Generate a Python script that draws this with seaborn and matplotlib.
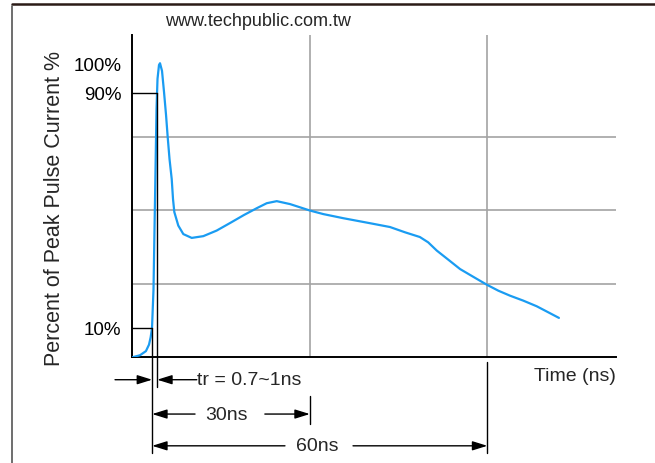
import numpy as np
import pandas as pd
import matplotlib
matplotlib.use("Agg")
import matplotlib.pyplot as plt
from matplotlib.lines import Line2D
import seaborn as sns

# ---- data (time in ns, current in % of peak) ----
time_ns = [0.0, 1.3, 2.3, 2.82, 3.1, 3.33, 3.58, 3.84, 4.09, 4.26, 4.51, 4.68,
           5.02, 5.36, 5.70, 5.98, 6.29, 6.66, 6.88, 7.10, 7.77, 8.62, 10.04,
           12.0, 14.26, 16.55, 18.88, 21.03, 22.72, 24.41, 26.66, 28.35, 30.03,
           32.28, 35.66, 40.17, 43.55, 46.1, 48.6, 50.0, 51.45, 53.4, 55.4,
           57.6, 59.9, 61.86, 63.84, 66.1, 68.35, 70.3, 72.1]
current_pct = [0.0, 0.7, 2.1, 4.3, 6.8, 10.0, 23.0, 54.0, 84.4, 94.7, 99.4, 100.0,
               97.4, 90.2, 82.4, 74.9, 67.4, 60.6, 53.8, 49.4, 44.8, 41.9, 40.6,
               41.2, 43.1, 45.7, 48.4, 50.7, 52.4, 53.1, 52.1, 51.0, 49.9,
               48.7, 47.3, 45.6, 44.3, 42.5, 40.9, 39.1, 36.3, 33.2, 30.0,
               27.4, 24.7, 22.65, 20.95, 19.25, 17.35, 15.3, 13.4]

y_tick_values = [10, 90, 100]
y_tick_labels = ["10%", "90%", "100%"]
h_grid = [25, 50, 75, 100]
v_grid = [30, 60]

t_10 = 3.35   # time where the pulse passes 10%
t_90 = 4.2    # time where the pulse passes 90%

df = pd.DataFrame({"t": time_ns, "i": current_pct})

sns.set_theme(style="white")
plt.rcParams["font.family"] = ["Liberation Sans", "DejaVu Sans"]

fig = plt.figure(figsize=(6.55, 4.64), dpi=100)
ax = fig.add_axes([0.202, 0.2278, 0.7385, 0.6946])

sns.lineplot(data=df, x="t", y="i", ax=ax, color="#1a9cf2", linewidth=1.6,
             zorder=3, sort=False, solid_joinstyle="round")

ax.set_xlim(0, 81.75)
ax.set_ylim(0, 109.6)

# grid: horizontal every 25%, vertical at 30 / 60 ns
ax.set_yticks(y_tick_values, labels=y_tick_labels)
ax.set_yticks(h_grid, minor=True)
ax.set_xticks(v_grid, labels=[])
ax.grid(False)
ax.grid(which="minor", axis="y", color="#a3a3a3", linewidth=1.2)
ax.grid(which="major", axis="x", color="#a3a3a3", linewidth=1.2)
ax.tick_params(axis="y", which="both", length=0, pad=8, labelsize=13.5,
               labelcolor="black")
ax.tick_params(axis="x", length=0)
ax.set_xlabel("")
ax.set_ylabel("")

for side in ["top", "right"]:
    ax.spines[side].set_visible(False)
for side in ["left", "bottom"]:
    ax.spines[side].set_color("black")
    ax.spines[side].set_linewidth(1.4)

# 10% / 90% markers
ax.plot([0, t_10], [10, 10], color="black", lw=1.0, zorder=4)
ax.plot([0, t_90], [90, 90], color="black", lw=1.0, zorder=4)

# dimension lines below the axis
vlines = [(t_10, 10, -32.6), (t_90, 90, -10.1), (v_grid[0], -13.1, -22.7),
          (v_grid[1], -1.5, -32.6)]
for x, y0, y1 in vlines:
    ax.plot([x, x], [y0, y1], color="black", lw=1.0, clip_on=False, zorder=4)

arrow = dict(arrowstyle="-|>,head_length=0.9,head_width=0.28", color="black",
             lw=1.0, shrinkA=0, shrinkB=0, mutation_scale=10)

def dim_arrow(x_from, x_to, y):
    ax.annotate("", xy=(x_to, y), xytext=(x_from, y), arrowprops=arrow,
                annotation_clip=False)

# rise time
dim_arrow(-2.92, t_10, -7.62)
dim_arrow(10.9, t_90, -7.62)
ax.text(10.9, -7.62, "tr = 0.7~1ns", fontsize=14, ha="left", va="center",
        clip_on=False)
# 30ns
dim_arrow(10.6, t_10, -19.3)
dim_arrow(22.4, v_grid[0], -19.3)
ax.text(15.9, -19.3, "30ns", fontsize=14, ha="center", va="center", clip_on=False)
# 60ns
dim_arrow(25.8, t_10, -30.1)
dim_arrow(37.3, v_grid[1], -30.1)
ax.text(31.3, -30.1, "60ns", fontsize=14, ha="center", va="center", clip_on=False)

# labels
fig.text(616 / 655, 1 - 377 / 464, "Time (ns)", fontsize=14, ha="right",
         va="center")
fig.text(55 / 655, 1 - 208 / 464, "Percent of Peak Pulse Current %", fontsize=15.5,
         rotation=90, ha="center", va="center")
fig.text(165 / 655, 1 - 22 / 464, "www.techpublic.com.tw", fontsize=13,
         ha="left", va="center")

# page frame lines
fig.add_artist(Line2D([12 / 655, 1], [1 - 5 / 464, 1 - 5 / 464],
                      transform=fig.transFigure, color="#2b1b17", lw=1.8))
fig.add_artist(Line2D([12 / 655, 12 / 655], [0, 1 - 7 / 464],
                      transform=fig.transFigure, color="#555555", lw=1.2))

fig.savefig("out.png", dpi=100)
